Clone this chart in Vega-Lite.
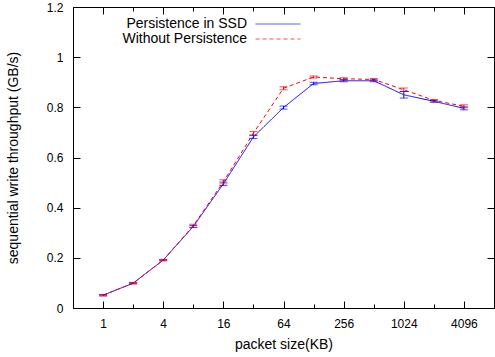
{
  "$schema": "https://vega.github.io/schema/vega-lite/v6.json",
  "width": 421,
  "height": 301,
  "autosize": "none",
  "padding": {"left": 73, "top": 7, "right": 1, "bottom": 49},
  "background": "white",
  "config": {
    "font": "Liberation Sans",
    "view": {"stroke": "black", "strokeWidth": 1},
    "axis": {"grid": false, "domainColor": "black", "tickColor": "black", "labelColor": "black", "titleColor": "black", "labelFont": "Liberation Sans", "titleFont": "Liberation Sans", "labelFontSize": 12, "titleFontSize": 14, "titleFontWeight": "normal", "tickWidth": 1, "domainWidth": 1},
    "legend": {"labelFont": "Liberation Sans", "labelFontSize": 14, "labelColor": "black"}
  },
  "data": {
    "values": [
      {"size": 1, "series": "Persistence in SSD", "value": 0.051, "lo": 0.048, "hi": 0.054},
      {"size": 2, "series": "Persistence in SSD", "value": 0.099, "lo": 0.096, "hi": 0.102},
      {"size": 4, "series": "Persistence in SSD", "value": 0.191, "lo": 0.188, "hi": 0.194},
      {"size": 8, "series": "Persistence in SSD", "value": 0.325, "lo": 0.321, "hi": 0.329},
      {"size": 16, "series": "Persistence in SSD", "value": 0.495, "lo": 0.488, "hi": 0.502},
      {"size": 32, "series": "Persistence in SSD", "value": 0.682, "lo": 0.676, "hi": 0.688},
      {"size": 64, "series": "Persistence in SSD", "value": 0.799, "lo": 0.793, "hi": 0.805},
      {"size": 128, "series": "Persistence in SSD", "value": 0.895, "lo": 0.890, "hi": 0.900},
      {"size": 256, "series": "Persistence in SSD", "value": 0.906, "lo": 0.902, "hi": 0.910},
      {"size": 512, "series": "Persistence in SSD", "value": 0.906, "lo": 0.902, "hi": 0.910},
      {"size": 1024, "series": "Persistence in SSD", "value": 0.850, "lo": 0.837, "hi": 0.863},
      {"size": 2048, "series": "Persistence in SSD", "value": 0.824, "lo": 0.820, "hi": 0.828},
      {"size": 4096, "series": "Persistence in SSD", "value": 0.796, "lo": 0.790, "hi": 0.802},
      {"size": 1, "series": "Without Persistence", "value": 0.051, "lo": 0.049, "hi": 0.053},
      {"size": 2, "series": "Without Persistence", "value": 0.099, "lo": 0.097, "hi": 0.101},
      {"size": 4, "series": "Without Persistence", "value": 0.191, "lo": 0.189, "hi": 0.193},
      {"size": 8, "series": "Without Persistence", "value": 0.328, "lo": 0.322, "hi": 0.334},
      {"size": 16, "series": "Without Persistence", "value": 0.503, "lo": 0.495, "hi": 0.511},
      {"size": 32, "series": "Without Persistence", "value": 0.697, "lo": 0.690, "hi": 0.704},
      {"size": 64, "series": "Without Persistence", "value": 0.876, "lo": 0.870, "hi": 0.882},
      {"size": 128, "series": "Without Persistence", "value": 0.921, "lo": 0.917, "hi": 0.925},
      {"size": 256, "series": "Without Persistence", "value": 0.914, "lo": 0.910, "hi": 0.918},
      {"size": 512, "series": "Without Persistence", "value": 0.911, "lo": 0.907, "hi": 0.915},
      {"size": 1024, "series": "Without Persistence", "value": 0.870, "lo": 0.863, "hi": 0.877},
      {"size": 2048, "series": "Without Persistence", "value": 0.828, "lo": 0.825, "hi": 0.831},
      {"size": 4096, "series": "Without Persistence", "value": 0.804, "lo": 0.798, "hi": 0.810}
    ]
  },
  "resolve": {"axis": {"x": "independent", "y": "independent"}},
  "layer": [
    {
      "mark": {"type": "line", "strokeWidth": 1, "clip": true},
      "encoding": {
        "x": {"field": "size", "type": "quantitative", "scale": {"type": "log", "base": 2, "domain": [0.5, 8192], "nice": false},
              "axis": {"orient": "bottom", "values": [1, 4, 16, 64, 256, 1024, 4096], "tickSize": -7, "labelPadding": 17, "title": "packet size(KB)", "titlePadding": 8, "format": "d", "labelFlush": false}},
        "y": {"field": "value", "type": "quantitative", "scale": {"domain": [0, 1.2], "nice": false, "zero": false},
              "axis": {"orient": "left", "values": [0, 0.2, 0.4, 0.6, 0.8, 1, 1.2], "tickSize": -7, "labelPadding": 17, "format": "~g", "title": "sequential write throughput (GB/s)", "titlePadding": 26, "labelFlush": false}},
        "color": {"field": "series", "type": "nominal", "scale": {"domain": ["Persistence in SSD", "Without Persistence"], "range": ["#0000ff", "#ff0000"]},
                  "legend": {"orient": "none", "legendX": 197, "legendY": 9, "title": null, "symbolType": "M-3,0H3", "symbolSize": 225, "symbolStrokeWidth": 1, "labelAlign": "right", "labelOffset": -39, "rowPadding": -3}},
        "strokeDash": {"field": "series", "type": "nominal", "scale": {"domain": ["Persistence in SSD", "Without Persistence"], "range": [[1, 0], [4, 3]]}, "legend": null}
      }
    },
    {
      "mark": {"type": "rule", "strokeWidth": 1},
      "encoding": {
        "x": {"field": "size", "type": "quantitative", "axis": {"orient": "top", "values": [1, 4, 16, 64, 256, 1024, 4096], "tickSize": -7, "labels": false, "title": null}},
        "y": {"field": "lo", "type": "quantitative", "axis": {"orient": "right", "values": [0, 0.2, 0.4, 0.6, 0.8, 1, 1.2], "tickSize": -7, "labels": false, "title": null}},
        "y2": {"field": "hi"},
        "color": {"field": "series", "type": "nominal"}
      }
    },
    {
      "mark": {"type": "tick", "orient": "horizontal", "size": 8, "thickness": 1},
      "encoding": {
        "x": {"field": "size", "type": "quantitative", "axis": {"orient": "bottom", "values": [2, 8, 32, 128, 512, 2048], "tickSize": -4, "labels": false, "domain": false, "title": null}},
        "y": {"field": "lo", "type": "quantitative", "axis": null},
        "color": {"field": "series", "type": "nominal"}
      }
    },
    {
      "mark": {"type": "tick", "orient": "horizontal", "size": 8, "thickness": 1},
      "encoding": {
        "x": {"field": "size", "type": "quantitative", "axis": {"orient": "top", "values": [2, 8, 32, 128, 512, 2048], "tickSize": -4, "labels": false, "domain": false, "title": null}},
        "y": {"field": "hi", "type": "quantitative", "axis": null},
        "color": {"field": "series", "type": "nominal"}
      }
    }
  ]
}
